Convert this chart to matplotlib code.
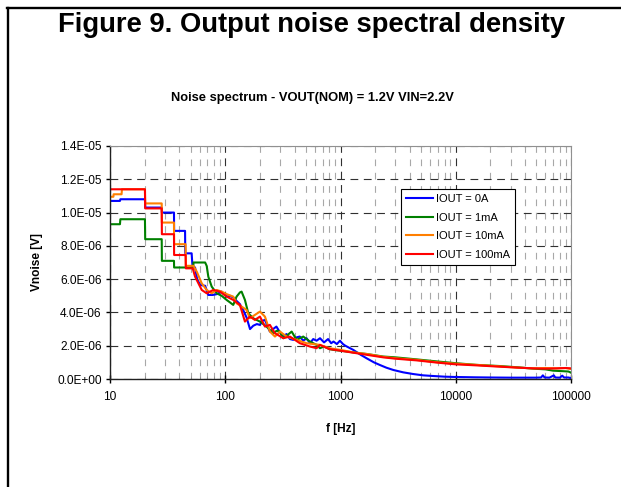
import matplotlib
matplotlib.use("Agg")
import matplotlib.pyplot as plt
from matplotlib.lines import Line2D
from matplotlib.ticker import FixedLocator, FuncFormatter, LogLocator, NullFormatter

plt.rcParams['font.family'] = ['Liberation Sans', 'DejaVu Sans']

# ---------------- data (values in microvolts, later scaled to V) ----------------
f_0A = [10, 12.2, 12.3, 20.1, 20.2, 28.1, 28.2, 35.9, 36.0, 44.8, 45.0, 51.1, 52.0, 54.7, 57, 60.5,
        66.9, 71.3, 78, 84.5, 93, 102.8, 110, 117.3, 125, 134, 144, 153, 164, 175, 188, 200, 210,
        221, 232, 244, 260, 278, 298, 318, 340, 364, 389, 415, 443, 475, 508, 543, 580, 620, 664,
        720, 780, 830, 870, 930, 989, 1050, 1100, 1290, 1500, 1690, 1950, 2200, 2500, 2880, 3500,
        4260, 5200, 6370, 8000, 10000, 15000, 20000, 30000, 40000, 50000, 55000, 57000, 59000,
        65000, 71000, 73000, 80000, 84000, 87000, 95000, 100000]
v_0A = [10.7, 10.7, 10.8, 10.8, 10.3, 10.3, 10.0, 10.0, 8.9, 8.9, 7.55, 7.55, 6.75, 6.7, 6.0, 5.65,
        5.6, 5.05, 5.05, 5.1, 5.25, 4.95, 5.0, 4.9, 4.7, 4.5, 4.1, 3.7, 3.0, 3.2, 3.3, 3.25, 3.5,
        3.55, 3.2, 2.85, 3.0, 3.15, 2.8, 2.55, 2.7, 2.4, 2.35, 2.5, 2.55, 2.3, 2.45, 2.15, 2.4, 2.3,
        2.45, 2.2, 2.4, 2.15, 2.25, 2.1, 2.3, 2.1, 2.0, 1.75, 1.45, 1.24, 1.0, 0.84, 0.68, 0.54, 0.4,
        0.3, 0.22, 0.18, 0.14, 0.12, 0.1, 0.09, 0.08, 0.08, 0.08, 0.09, 0.22, 0.09,
        0.08, 0.22, 0.09, 0.08, 0.2, 0.09, 0.09, 0.05]

f_1mA = [10, 12.2, 12.3, 20.1, 20.2, 28.1, 28.2, 35.9, 36.0, 52.9, 53.0, 66.9, 69, 71.3, 76.3, 84.3,
         93, 102.8, 110, 117.3, 125.4, 134, 138.6, 148.2, 158.4, 174.9, 200, 228, 261, 280, 298,
         319, 341, 377, 416, 475, 543, 620, 663, 720, 800, 870, 1000, 1290, 1700, 2350, 3000, 4560,
         7000, 10000, 15000, 24000, 35000, 47000, 60000, 70000, 85000, 95000, 100000]
v_1mA = [9.3, 9.3, 9.6, 9.6, 8.4, 8.4, 7.1, 7.1, 6.7, 6.7, 7.0, 7.0, 6.8, 6.15, 5.55, 5.15,
         5.0, 4.75, 4.6, 4.45, 4.95, 5.2, 5.25, 4.75, 3.95, 3.65, 3.45, 3.15, 2.75, 2.9, 2.85,
         2.45, 2.6, 2.85, 2.35, 2.55, 2.25, 2.05, 1.85, 1.95, 1.8, 1.75, 1.7, 1.6, 1.5, 1.35, 1.3, 1.18,
         1.05, 0.95, 0.85, 0.78, 0.7, 0.62, 0.58, 0.5, 0.47, 0.45, 0.38]

f_10mA = [10, 10.7, 10.75, 12.6, 12.7, 20.1, 20.2, 28.1, 28.2, 35.9, 36.0, 45.3, 45.5, 52.9, 56.6,
          62.5, 69, 76.3, 84.3, 93.2, 102.8, 117.3, 125.4, 138.6, 153.1, 163.6, 180.8, 200, 221,
          244, 270, 298, 341, 416, 508, 663, 800, 1000, 1290, 1700, 2350, 3000, 4560, 7000, 10000,
          15000, 24000, 35000, 47000, 60000, 75000, 90000, 100000]
v_10mA = [10.95, 10.95, 11.1, 11.1, 11.4, 11.4, 10.55, 10.55, 9.4, 9.4, 8.1, 8.1, 6.8, 6.8, 6.45,
          5.75, 5.35, 5.15, 5.35, 5.25, 5.1, 4.95, 4.55, 4.35, 4.15, 3.65, 3.85, 4.05, 3.75,
          2.85, 2.55, 2.85, 2.55, 2.35, 2.15, 2.05, 1.85, 1.75, 1.6, 1.5, 1.33, 1.25, 1.15, 1.0, 0.92,
          0.85, 0.76, 0.68, 0.64, 0.66, 0.64, 0.66, 0.6]

f_100mA = [10, 20.1, 20.2, 28.1, 28.2, 35.9, 36.0, 45.3, 45.5, 52.2, 54.7, 62.5, 69, 78.8, 90,
           102.8, 117.3, 134, 148.2, 163.6, 180.8, 200, 221, 244, 270, 319, 364, 444, 543, 620,
           663, 800, 1000, 1290, 1700, 2350, 3000, 4560, 7000, 10000, 15000, 24000, 35000, 47000,
           60000, 75000, 90000, 100000]
v_100mA = [11.4, 11.4, 10.25, 10.25, 8.7, 8.7, 7.45, 7.45, 6.65, 6.65, 6.15, 5.35, 5.15, 5.35, 5.25,
           4.95, 4.75, 4.45, 3.45, 3.75, 3.55, 3.75, 3.15, 3.25, 2.75, 2.45, 2.55, 2.15, 1.95, 1.85,
           2.05, 1.8, 1.7, 1.58, 1.45, 1.3, 1.22, 1.12, 0.98, 0.88, 0.82, 0.74, 0.68, 0.64,
           0.62, 0.64, 0.66, 0.64]

labels = ["IOUT = 0A", "IOUT = 1mA", "IOUT = 10mA", "IOUT = 100mA"]
colors = ["#0000FF", "#008000", "#FF7F00", "#FF0000"]
y_ticks = [0, 2e-6, 4e-6, 6e-6, 8e-6, 10e-6, 12e-6, 14e-6]
x_ticks = [10, 100, 1000, 10000, 100000]
x_ticklabels = ["10", "100", "1000", "10000", "100000"]

series = [(f_0A, v_0A), (f_1mA, v_1mA), (f_10mA, v_10mA), (f_100mA, v_100mA)]

# ---------------- figure ----------------
W, H = 621, 487
fig = plt.figure(figsize=(W / 100, H / 100), dpi=100)

def fx(px):
    return px / W

def fy(py):
    return 1 - py / H

# outer frame lines (top + left)
fig.add_artist(Line2D([fx(7), 1.0], [fy(8), fy(8)], color="black", lw=1.7))
fig.add_artist(Line2D([fx(7.7), fx(7.7)], [fy(8), 0.0], color="black", lw=1.7))

fig.text(fx(312), fy(25), "Figure 9. Output noise spectral density", ha="center", va="center",
         fontsize=19.7, fontweight="bold")
fig.text(fx(312), fy(98), "Noise spectrum - VOUT(NOM) = 1.2V VIN=2.2V", ha="center", va="center",
         fontsize=9.3, fontweight="bold")

ax = fig.add_axes([fx(110), fy(379), fx(571) - fx(110), fy(146) - fy(379)])

for (fr, vv), lab, col in zip(series, labels, colors):
    ax.plot(fr, [v * 1e-6 for v in vv], color=col, lw=1.5, label=lab)

ax.set_xscale("log")
ax.set_xlim(10, 100000)
ax.set_ylim(0, 1.4e-5)

ax.xaxis.set_major_locator(FixedLocator(x_ticks))
ax.set_xticklabels(x_ticklabels)
ax.xaxis.set_minor_locator(LogLocator(base=10, subs=range(2, 10)))
ax.xaxis.set_minor_formatter(NullFormatter())
ax.yaxis.set_major_locator(FixedLocator(y_ticks))
ax.yaxis.set_major_formatter(FuncFormatter(lambda v, p: "%.1E" % v))

ax.grid(which="major", axis="both", color="#303030", lw=0.8, linestyle=(0, (7, 5)))
ax.grid(which="minor", axis="x", color="#a8a8a8", lw=0.8, linestyle=(0, (6, 6)))
ax.set_axisbelow(True)

for s in ["top", "right"]:
    ax.spines[s].set_color("#909090")
    ax.spines[s].set_linewidth(0.8)
for s in ["left", "bottom"]:
    ax.spines[s].set_color("#202020")
    ax.spines[s].set_linewidth(1.0)

ax.tick_params(axis="y", which="major", direction="out", length=3, width=1, labelsize=8.6, pad=3)
ax.tick_params(axis="x", which="major", direction="inout", length=6, width=1, labelsize=8.6, pad=6)
ax.tick_params(axis="x", which="minor", direction="in", length=2, width=0.6, color="#909090")

ax.set_xlabel("f [Hz]", fontsize=8.6, fontweight="bold", labelpad=14)
ax.set_ylabel("Vnoise [V]", fontsize=8.6, fontweight="bold", labelpad=10)

leg = ax.legend(loc="upper left", bbox_to_anchor=(fx(401), fy(189)), bbox_transform=fig.transFigure,
                fontsize=8, frameon=True, fancybox=False, framealpha=1, edgecolor="black",
                borderaxespad=0, handlelength=2.4, handletextpad=0.3, labelspacing=0.78,
                borderpad=0.45)
leg.get_frame().set_linewidth(0.8)

fig.savefig("out.png", dpi=100)
